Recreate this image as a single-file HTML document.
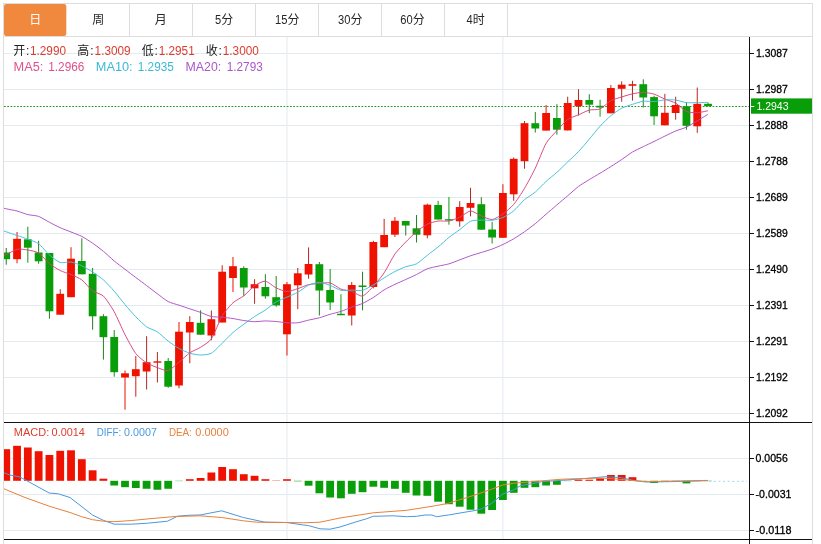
<!DOCTYPE html>
<html><head><meta charset="utf-8"><title>chart</title>
<style>html,body{margin:0;padding:0;background:#fff;overflow:hidden}body{width:821px;height:544px;position:relative;font-family:"Liberation Sans",sans-serif}</style></head>
<body>
<svg width="821" height="544" viewBox="0 0 821 544" style="position:absolute;left:0;top:0;will-change:transform;font-family:'Liberation Sans','Noto Sans CJK SC',sans-serif">
<defs><clipPath id="cp"><rect x="4" y="37" width="745" height="503"/></clipPath>
</defs>
<rect width="821" height="544" fill="#fff"/>
<g shape-rendering="crispEdges" fill="#dddddd">
<rect x="3" y="3" width="810" height="1"/>
<rect x="3" y="36" width="810" height="1"/>
<rect x="3" y="3" width="1" height="541"/>
<rect x="812" y="3" width="1" height="541"/>
<rect x="129" y="4" width="1" height="32"/>
<rect x="192" y="4" width="1" height="32"/>
<rect x="255" y="4" width="1" height="32"/>
<rect x="318" y="4" width="1" height="32"/>
<rect x="381" y="4" width="1" height="32"/>
<rect x="444" y="4" width="1" height="32"/>
<rect x="507" y="4" width="1" height="32"/>
</g>
<rect x="4" y="4" width="62.3" height="32" rx="2.2" fill="#f0883e"/>
<text x="29.30" y="24.20" font-size="12" fill="#ffffff" font-family="'Liberation Sans','Noto Sans CJK SC',sans-serif">日</text>
<text x="92.25" y="24.20" font-size="12" fill="#262626" font-family="'Liberation Sans','Noto Sans CJK SC',sans-serif">周</text>
<text x="154.70" y="24.20" font-size="12" fill="#262626" font-family="'Liberation Sans','Noto Sans CJK SC',sans-serif">月</text>
<text x="215.10" y="23.60" font-size="12" fill="#262626" textLength="6.20" lengthAdjust="spacingAndGlyphs">5</text><text x="221.30" y="24.20" font-size="12" fill="#262626" font-family="'Liberation Sans','Noto Sans CJK SC',sans-serif">分</text>
<text x="275.10" y="23.60" font-size="12" fill="#262626" textLength="12.40" lengthAdjust="spacingAndGlyphs">15</text><text x="287.50" y="24.20" font-size="12" fill="#262626" font-family="'Liberation Sans','Noto Sans CJK SC',sans-serif">分</text>
<text x="338.00" y="23.60" font-size="12" fill="#262626" textLength="12.40" lengthAdjust="spacingAndGlyphs">30</text><text x="350.40" y="24.20" font-size="12" fill="#262626" font-family="'Liberation Sans','Noto Sans CJK SC',sans-serif">分</text>
<text x="400.30" y="23.60" font-size="12" fill="#262626" textLength="12.40" lengthAdjust="spacingAndGlyphs">60</text><text x="412.70" y="24.20" font-size="12" fill="#262626" font-family="'Liberation Sans','Noto Sans CJK SC',sans-serif">分</text>
<text x="466.50" y="23.60" font-size="12" fill="#262626" textLength="6.20" lengthAdjust="spacingAndGlyphs">4</text><text x="472.70" y="24.20" font-size="12" fill="#262626" font-family="'Liberation Sans','Noto Sans CJK SC',sans-serif">时</text>
<g shape-rendering="crispEdges" fill="#e3eaf0">
<rect x="4" y="53" width="745" height="1"/>
<rect x="4" y="89" width="745" height="1"/>
<rect x="4" y="125" width="745" height="1"/>
<rect x="4" y="161" width="745" height="1"/>
<rect x="4" y="197" width="745" height="1"/>
<rect x="4" y="233" width="745" height="1"/>
<rect x="4" y="269" width="745" height="1"/>
<rect x="4" y="305" width="745" height="1"/>
<rect x="4" y="341" width="745" height="1"/>
<rect x="4" y="377" width="745" height="1"/>
<rect x="4" y="413" width="745" height="1"/>
<rect x="4" y="458" width="745" height="1"/>
<rect x="4" y="494" width="745" height="1"/>
<rect x="4" y="530" width="745" height="1"/>
</g>
<rect x="286.46" y="37" width="1" height="502" fill="#e3eaf0"/>
<rect x="502.40" y="37" width="1" height="502" fill="#e3eaf0"/>
<text x="13.20" y="55.10" font-size="12" fill="#222222" font-family="'Liberation Sans','Noto Sans CJK SC',sans-serif">开</text>
<text x="26.00" y="54.80" font-size="12" fill="#222222">:</text>
<text x="30.00" y="54.80" font-size="12" fill="#dc3c2e" textLength="36.00" lengthAdjust="spacingAndGlyphs">1.2990</text>
<text x="77.30" y="55.10" font-size="12" fill="#222222" font-family="'Liberation Sans','Noto Sans CJK SC',sans-serif">高</text>
<text x="90.20" y="54.80" font-size="12" fill="#222222">:</text>
<text x="94.60" y="54.80" font-size="12" fill="#dc3c2e" textLength="36.00" lengthAdjust="spacingAndGlyphs">1.3009</text>
<text x="141.80" y="55.10" font-size="12" fill="#222222" font-family="'Liberation Sans','Noto Sans CJK SC',sans-serif">低</text>
<text x="154.60" y="54.80" font-size="12" fill="#222222">:</text>
<text x="158.70" y="54.80" font-size="12" fill="#dc3c2e" textLength="36.00" lengthAdjust="spacingAndGlyphs">1.2951</text>
<text x="205.70" y="55.10" font-size="12" fill="#222222" font-family="'Liberation Sans','Noto Sans CJK SC',sans-serif">收</text>
<text x="218.50" y="54.80" font-size="12" fill="#222222">:</text>
<text x="222.80" y="54.80" font-size="12" fill="#dc3c2e" textLength="36.00" lengthAdjust="spacingAndGlyphs">1.3000</text>
<text x="13.50" y="70.80" font-size="12" fill="#e0508c" textLength="29.80" lengthAdjust="spacingAndGlyphs">MA5:</text>
<text x="48.20" y="70.80" font-size="12" fill="#e0508c" textLength="36.20" lengthAdjust="spacingAndGlyphs">1.2966</text>
<text x="95.80" y="70.80" font-size="12" fill="#3cb8d6" textLength="36.80" lengthAdjust="spacingAndGlyphs">MA10:</text>
<text x="137.80" y="70.80" font-size="12" fill="#3cb8d6" textLength="36.00" lengthAdjust="spacingAndGlyphs">1.2935</text>
<text x="185.60" y="70.80" font-size="12" fill="#a957c9" textLength="35.60" lengthAdjust="spacingAndGlyphs">MA20:</text>
<text x="226.80" y="70.80" font-size="12" fill="#a957c9" textLength="35.90" lengthAdjust="spacingAndGlyphs">1.2793</text>
<text x="13.80" y="435.80" font-size="11" fill="#dc3c2e" textLength="35.40" lengthAdjust="spacingAndGlyphs">MACD:</text>
<text x="51.60" y="435.80" font-size="11" fill="#dc3c2e" textLength="33.20" lengthAdjust="spacingAndGlyphs">0.0014</text>
<text x="96.80" y="435.80" font-size="11" fill="#4a98de" textLength="24.40" lengthAdjust="spacingAndGlyphs">DIFF:</text>
<text x="124.10" y="435.80" font-size="11" fill="#4a98de" textLength="32.80" lengthAdjust="spacingAndGlyphs">0.0007</text>
<text x="168.90" y="435.80" font-size="11" fill="#e8813c" textLength="22.90" lengthAdjust="spacingAndGlyphs">DEA:</text>
<text x="195.30" y="435.80" font-size="11" fill="#e8813c" textLength="33.50" lengthAdjust="spacingAndGlyphs">0.0000</text>
<g clip-path="url(#cp)">
<line x1="4" y1="106.5" x2="749" y2="106.5" stroke="#22992a" stroke-width="1" stroke-dasharray="1.75 1.5"/>
<rect x="5.74" y="248.00" width="1" height="16.70" fill="#237f23"/>
<rect x="2.34" y="252.50" width="7.80" height="6.70" fill="#0a9d0a"/>
<rect x="16.54" y="232.00" width="1" height="31.30" fill="#ef1201"/>
<rect x="13.14" y="238.80" width="7.80" height="20.40" fill="#ef1201"/>
<rect x="27.33" y="226.70" width="1" height="36.00" fill="#178f17"/>
<rect x="23.93" y="239.30" width="7.80" height="8.40" fill="#0a9d0a"/>
<rect x="38.13" y="240.80" width="1" height="22.90" fill="#237f23"/>
<rect x="34.73" y="252.50" width="7.80" height="8.80" fill="#0a9d0a"/>
<rect x="48.93" y="253.00" width="1" height="65.70" fill="#237f23"/>
<rect x="45.53" y="253.00" width="7.80" height="58.30" fill="#0a9d0a"/>
<rect x="59.73" y="289.20" width="1" height="25.50" fill="#b32a24"/>
<rect x="56.33" y="293.80" width="7.80" height="20.90" fill="#ef1201"/>
<rect x="70.52" y="247.20" width="1" height="50.00" fill="#ef1201"/>
<rect x="67.12" y="258.70" width="7.80" height="38.50" fill="#ef1201"/>
<rect x="81.32" y="238.30" width="1" height="36.00" fill="#178f17"/>
<rect x="77.92" y="261.00" width="7.80" height="13.30" fill="#0a9d0a"/>
<rect x="92.12" y="268.00" width="1" height="61.70" fill="#237f23"/>
<rect x="88.72" y="273.80" width="7.80" height="42.50" fill="#0a9d0a"/>
<rect x="102.91" y="314.20" width="1" height="45.40" fill="#237f23"/>
<rect x="99.51" y="316.20" width="7.80" height="21.00" fill="#0a9d0a"/>
<rect x="113.71" y="330.00" width="1" height="46.70" fill="#178f17"/>
<rect x="110.31" y="337.00" width="7.80" height="35.20" fill="#0a9d0a"/>
<rect x="124.51" y="370.50" width="1" height="39.20" fill="#ef1201"/>
<rect x="121.11" y="373.30" width="7.80" height="4.20" fill="#ef1201"/>
<rect x="135.30" y="356.00" width="1" height="40.70" fill="#d01e14"/>
<rect x="131.90" y="369.20" width="7.80" height="7.00" fill="#ef1201"/>
<rect x="146.10" y="336.20" width="1" height="53.30" fill="#b32a24"/>
<rect x="142.70" y="362.20" width="7.80" height="9.30" fill="#ef1201"/>
<rect x="156.90" y="352.00" width="1" height="30.50" fill="#b32a24"/>
<rect x="153.50" y="361.30" width="7.80" height="1.40" fill="#ef1201"/>
<rect x="167.70" y="358.00" width="1" height="29.80" fill="#178f17"/>
<rect x="164.30" y="361.00" width="7.80" height="25.70" fill="#0a9d0a"/>
<rect x="178.49" y="322.00" width="1" height="66.30" fill="#ef1201"/>
<rect x="175.09" y="331.70" width="7.80" height="53.80" fill="#ef1201"/>
<rect x="189.29" y="316.20" width="1" height="47.10" fill="#d01e14"/>
<rect x="185.89" y="322.00" width="7.80" height="10.50" fill="#ef1201"/>
<rect x="200.09" y="310.30" width="1" height="24.40" fill="#237f23"/>
<rect x="196.69" y="322.80" width="7.80" height="11.90" fill="#0a9d0a"/>
<rect x="210.88" y="310.50" width="1" height="29.70" fill="#b32a24"/>
<rect x="207.48" y="319.20" width="7.80" height="16.30" fill="#ef1201"/>
<rect x="221.68" y="265.30" width="1" height="57.20" fill="#d01e14"/>
<rect x="218.28" y="271.70" width="7.80" height="50.80" fill="#ef1201"/>
<rect x="232.48" y="257.00" width="1" height="35.00" fill="#ef1201"/>
<rect x="229.08" y="266.20" width="7.80" height="11.80" fill="#ef1201"/>
<rect x="243.27" y="266.30" width="1" height="29.50" fill="#237f23"/>
<rect x="239.87" y="268.00" width="7.80" height="19.50" fill="#0a9d0a"/>
<rect x="254.07" y="279.20" width="1" height="24.60" fill="#b32a24"/>
<rect x="250.67" y="284.20" width="7.80" height="4.10" fill="#ef1201"/>
<rect x="264.87" y="274.20" width="1" height="24.50" fill="#237f23"/>
<rect x="261.47" y="287.00" width="7.80" height="9.30" fill="#0a9d0a"/>
<rect x="275.67" y="276.00" width="1" height="30.70" fill="#178f17"/>
<rect x="272.27" y="297.20" width="7.80" height="8.20" fill="#0a9d0a"/>
<rect x="286.46" y="282.00" width="1" height="73.50" fill="#ef1201"/>
<rect x="283.06" y="284.20" width="7.80" height="50.10" fill="#ef1201"/>
<rect x="297.26" y="268.00" width="1" height="41.20" fill="#b32a24"/>
<rect x="293.86" y="273.30" width="7.80" height="12.00" fill="#ef1201"/>
<rect x="308.06" y="247.40" width="1" height="31.30" fill="#b32a24"/>
<rect x="304.66" y="264.00" width="7.80" height="10.50" fill="#ef1201"/>
<rect x="318.85" y="262.00" width="1" height="53.50" fill="#237f23"/>
<rect x="315.45" y="264.20" width="7.80" height="26.30" fill="#0a9d0a"/>
<rect x="329.65" y="269.00" width="1" height="41.00" fill="#178f17"/>
<rect x="326.25" y="290.00" width="7.80" height="12.50" fill="#0a9d0a"/>
<rect x="340.45" y="294.20" width="1" height="21.00" fill="#0a9d0a"/>
<rect x="337.05" y="313.80" width="7.80" height="1.40" fill="#0a9d0a"/>
<rect x="351.24" y="282.00" width="1" height="43.50" fill="#b32a24"/>
<rect x="347.84" y="285.00" width="7.80" height="30.50" fill="#ef1201"/>
<rect x="362.04" y="271.70" width="1" height="38.60" fill="#237f23"/>
<rect x="358.64" y="285.50" width="7.80" height="1.50" fill="#0a9d0a"/>
<rect x="372.84" y="240.80" width="1" height="47.50" fill="#b32a24"/>
<rect x="369.44" y="242.00" width="7.80" height="45.00" fill="#ef1201"/>
<rect x="383.64" y="218.80" width="1" height="28.40" fill="#d01e14"/>
<rect x="380.24" y="235.00" width="7.80" height="12.20" fill="#ef1201"/>
<rect x="394.43" y="217.00" width="1" height="20.00" fill="#ef1201"/>
<rect x="391.03" y="220.80" width="7.80" height="13.90" fill="#ef1201"/>
<rect x="405.23" y="221.00" width="1" height="14.50" fill="#237f23"/>
<rect x="401.83" y="221.00" width="7.80" height="4.50" fill="#0a9d0a"/>
<rect x="416.03" y="215.00" width="1" height="27.50" fill="#237f23"/>
<rect x="412.63" y="228.30" width="7.80" height="6.40" fill="#0a9d0a"/>
<rect x="426.82" y="203.70" width="1" height="34.60" fill="#b32a24"/>
<rect x="423.42" y="204.70" width="7.80" height="30.60" fill="#ef1201"/>
<rect x="437.62" y="200.80" width="1" height="18.70" fill="#178f17"/>
<rect x="434.22" y="205.00" width="7.80" height="14.50" fill="#0a9d0a"/>
<rect x="448.42" y="197.00" width="1" height="27.70" fill="#0a9d0a"/>
<rect x="445.02" y="219.20" width="7.80" height="1.30" fill="#0a9d0a"/>
<rect x="459.21" y="201.20" width="1" height="25.50" fill="#b32a24"/>
<rect x="455.81" y="207.00" width="7.80" height="14.30" fill="#ef1201"/>
<rect x="470.01" y="187.80" width="1" height="28.50" fill="#b32a24"/>
<rect x="466.61" y="203.00" width="7.80" height="4.80" fill="#ef1201"/>
<rect x="480.81" y="197.20" width="1" height="32.50" fill="#237f23"/>
<rect x="477.41" y="204.20" width="7.80" height="25.50" fill="#0a9d0a"/>
<rect x="491.61" y="221.80" width="1" height="21.70" fill="#178f17"/>
<rect x="488.21" y="229.50" width="7.80" height="8.00" fill="#0a9d0a"/>
<rect x="502.40" y="184.20" width="1" height="53.60" fill="#ef1201"/>
<rect x="499.00" y="193.00" width="7.80" height="44.80" fill="#ef1201"/>
<rect x="513.20" y="157.50" width="1" height="43.30" fill="#b32a24"/>
<rect x="509.80" y="158.80" width="7.80" height="35.50" fill="#ef1201"/>
<rect x="524.00" y="121.00" width="1" height="47.70" fill="#b32a24"/>
<rect x="520.60" y="123.20" width="7.80" height="38.00" fill="#ef1201"/>
<rect x="534.79" y="112.00" width="1" height="20.50" fill="#237f23"/>
<rect x="531.39" y="123.20" width="7.80" height="5.30" fill="#0a9d0a"/>
<rect x="545.59" y="105.00" width="1" height="25.60" fill="#ef1201"/>
<rect x="542.19" y="113.00" width="7.80" height="17.60" fill="#ef1201"/>
<rect x="556.39" y="104.20" width="1" height="30.50" fill="#178f17"/>
<rect x="552.99" y="118.00" width="7.80" height="11.70" fill="#0a9d0a"/>
<rect x="567.18" y="96.70" width="1" height="33.70" fill="#b32a24"/>
<rect x="563.78" y="103.00" width="7.80" height="27.40" fill="#ef1201"/>
<rect x="577.98" y="89.20" width="1" height="26.30" fill="#b32a24"/>
<rect x="574.58" y="100.00" width="7.80" height="6.20" fill="#ef1201"/>
<rect x="588.78" y="94.20" width="1" height="19.00" fill="#237f23"/>
<rect x="585.38" y="100.00" width="7.80" height="4.70" fill="#0a9d0a"/>
<rect x="599.58" y="99.70" width="1" height="17.00" fill="#0a9d0a"/>
<rect x="596.18" y="105.80" width="7.80" height="1.70" fill="#0a9d0a"/>
<rect x="610.37" y="85.00" width="1" height="28.30" fill="#d01e14"/>
<rect x="606.97" y="88.00" width="7.80" height="25.30" fill="#ef1201"/>
<rect x="621.17" y="81.30" width="1" height="20.40" fill="#b32a24"/>
<rect x="617.77" y="84.70" width="7.80" height="4.10" fill="#ef1201"/>
<rect x="631.97" y="80.80" width="1" height="19.80" fill="#b32a24"/>
<rect x="628.57" y="84.20" width="7.80" height="1.60" fill="#ef1201"/>
<rect x="642.76" y="79.30" width="1" height="28.20" fill="#237f23"/>
<rect x="639.36" y="84.20" width="7.80" height="13.30" fill="#0a9d0a"/>
<rect x="653.56" y="95.80" width="1" height="29.20" fill="#0a9d0a"/>
<rect x="650.16" y="97.10" width="7.80" height="19.20" fill="#0a9d0a"/>
<rect x="664.36" y="93.80" width="1" height="31.50" fill="#d01e14"/>
<rect x="660.96" y="112.80" width="7.80" height="12.50" fill="#ef1201"/>
<rect x="675.15" y="96.70" width="1" height="23.00" fill="#b32a24"/>
<rect x="671.75" y="105.00" width="7.80" height="8.00" fill="#ef1201"/>
<rect x="685.95" y="102.50" width="1" height="27.20" fill="#237f23"/>
<rect x="682.55" y="106.20" width="7.80" height="19.60" fill="#0a9d0a"/>
<rect x="696.75" y="87.50" width="1" height="45.30" fill="#b32a24"/>
<rect x="693.35" y="103.80" width="7.80" height="22.50" fill="#ef1201"/>
<rect x="707.55" y="102.50" width="1" height="3.70" fill="#0a9d0a"/>
<rect x="704.15" y="103.80" width="7.80" height="2.40" fill="#0a9d0a"/>
<path d="M-4.56 257.50 C-3.37 257.17 3.86 255.40 6.24 254.50 C8.62 253.60 14.66 249.80 17.04 249.30 C19.41 248.81 25.46 249.59 27.83 250.00 C30.21 250.41 36.26 251.50 38.63 253.00 C41.01 254.50 47.05 261.73 49.43 263.66 C51.80 265.59 57.85 269.38 60.23 270.58 C62.60 271.78 68.65 273.54 71.02 274.56 C73.40 275.58 79.44 278.08 81.82 279.88 C84.19 281.68 90.24 289.10 92.62 290.88 C94.99 292.66 101.04 293.77 103.41 296.06 C105.79 298.35 111.83 307.49 114.21 311.74 C116.59 315.99 122.63 330.05 125.01 334.66 C127.38 339.27 133.43 350.54 135.80 353.64 C138.18 356.74 144.23 361.28 146.60 362.82 C148.98 364.36 155.02 366.79 157.40 367.64 C159.77 368.49 165.82 371.14 168.20 370.54 C170.57 369.94 176.62 364.17 178.99 362.22 C181.37 360.27 187.41 354.42 189.79 352.78 C192.16 351.14 198.21 348.81 200.59 347.28 C202.96 345.75 209.01 342.32 211.38 338.86 C213.76 335.40 219.80 319.83 222.18 315.86 C224.56 311.89 230.60 304.96 232.98 302.76 C235.35 300.56 241.40 297.73 243.77 295.86 C246.15 293.99 252.20 287.37 254.57 285.76 C256.95 284.15 262.99 280.94 265.37 281.18 C267.74 281.42 273.79 286.78 276.17 287.92 C278.54 289.06 284.59 291.44 286.96 291.52 C289.34 291.60 295.38 289.44 297.76 288.68 C300.13 287.92 306.18 285.21 308.56 284.64 C310.93 284.07 316.98 283.67 319.35 283.48 C321.73 283.29 327.77 282.28 330.15 282.90 C332.53 283.52 338.57 288.16 340.95 289.10 C343.32 290.04 349.37 290.68 351.74 291.44 C354.12 292.20 360.17 296.60 362.54 296.04 C364.92 295.48 370.96 288.89 373.34 286.34 C375.71 283.79 381.76 276.40 384.14 272.84 C386.51 269.28 392.56 257.35 394.93 253.96 C397.31 250.57 403.35 244.52 405.73 242.06 C408.10 239.60 414.15 233.57 416.53 231.60 C418.90 229.63 424.95 225.30 427.32 224.14 C429.70 222.98 435.74 221.39 438.12 221.04 C440.50 220.69 446.54 221.39 448.92 220.98 C451.29 220.57 457.34 218.38 459.71 217.28 C462.09 216.18 468.14 211.09 470.51 210.94 C472.89 210.79 478.93 214.99 481.31 215.94 C483.68 216.89 489.73 219.75 492.11 219.54 C494.48 219.33 500.53 215.71 502.90 214.04 C505.28 212.37 511.32 207.22 513.70 204.40 C516.07 201.58 522.12 192.42 524.50 188.44 C526.87 184.46 532.92 173.17 535.29 168.20 C537.67 163.23 543.71 147.43 546.09 143.30 C548.47 139.17 554.51 133.26 556.89 130.64 C559.26 128.02 565.31 121.22 567.68 119.48 C570.06 117.74 576.11 115.87 578.48 114.84 C580.86 113.81 586.90 110.72 589.28 110.08 C591.65 109.44 597.70 110.02 600.08 108.98 C602.45 107.94 608.50 101.96 610.87 100.64 C613.25 99.32 619.29 97.73 621.67 96.98 C624.04 96.23 630.09 94.33 632.47 93.82 C634.84 93.31 640.89 92.34 643.26 92.38 C645.64 92.42 651.68 93.40 654.06 94.14 C656.44 94.88 662.48 98.11 664.86 99.10 C667.23 100.09 673.28 101.80 675.65 103.16 C678.03 104.52 684.08 110.43 686.45 111.48 C688.83 112.53 694.87 112.82 697.25 112.74 C699.62 112.66 706.86 110.94 708.05 110.72" fill="none" stroke="#d8427c" stroke-width="0.95"/>
<path d="M-4.56 228.20 C-3.37 228.60 3.86 231.00 6.24 231.80 C8.62 232.60 14.66 234.69 17.04 235.50 C19.41 236.31 25.46 238.30 27.83 239.20 C30.21 240.10 36.26 241.96 38.63 243.70 C41.01 245.44 47.05 252.93 49.43 255.00 C51.80 257.07 57.85 261.73 60.23 262.50 C62.60 263.27 68.65 261.64 71.02 262.00 C73.40 262.36 79.44 264.70 81.82 265.80 C84.19 266.90 90.24 270.45 92.62 272.00 C94.99 273.55 101.04 277.75 103.41 279.86 C105.79 281.97 111.83 288.44 114.21 291.16 C116.59 293.88 122.63 301.79 125.01 304.61 C127.38 307.43 133.43 314.31 135.80 316.76 C138.18 319.21 144.23 325.19 146.60 326.85 C148.98 328.51 155.02 330.28 157.40 331.85 C159.77 333.42 165.82 339.32 168.20 341.14 C170.57 342.96 176.62 347.11 178.99 348.44 C181.37 349.77 187.41 352.48 189.79 353.21 C192.16 353.94 198.21 355.05 200.59 355.05 C202.96 355.05 209.01 354.55 211.38 353.25 C213.76 351.95 219.80 345.48 222.18 343.20 C224.56 340.92 230.60 334.57 232.98 332.49 C235.35 330.41 241.40 326.08 243.77 324.32 C246.15 322.56 252.20 318.09 254.57 316.52 C256.95 314.95 262.99 311.63 265.37 310.02 C267.74 308.41 273.79 303.31 276.17 301.89 C278.54 300.47 284.59 298.20 286.96 297.14 C289.34 296.08 295.38 293.58 297.76 292.27 C300.13 290.96 306.18 286.29 308.56 285.20 C310.93 284.11 316.98 282.31 319.35 282.33 C321.73 282.35 327.77 284.53 330.15 285.41 C332.53 286.29 338.57 289.80 340.95 290.31 C343.32 290.82 349.37 290.06 351.74 290.06 C354.12 290.06 360.17 290.91 362.54 290.34 C364.92 289.77 370.96 286.28 373.34 284.91 C375.71 283.54 381.76 279.34 384.14 277.87 C386.51 276.40 392.56 272.75 394.93 271.53 C397.31 270.31 403.35 267.60 405.73 266.75 C408.10 265.90 414.15 265.09 416.53 263.82 C418.90 262.55 424.95 257.10 427.32 255.24 C429.70 253.38 435.74 248.89 438.12 246.94 C440.50 244.99 446.54 239.37 448.92 237.47 C451.29 235.57 457.34 231.45 459.71 229.67 C462.09 227.89 468.14 222.33 470.51 221.27 C472.89 220.21 478.93 220.15 481.31 220.04 C483.68 219.93 489.73 220.57 492.11 220.29 C494.48 220.01 500.53 218.55 502.90 217.51 C505.28 216.47 511.32 212.80 513.70 210.84 C516.07 208.88 522.12 201.75 524.50 199.69 C526.87 197.63 532.92 194.08 535.29 192.07 C537.67 190.06 543.71 183.59 546.09 181.42 C548.47 179.25 554.51 174.48 556.89 172.34 C559.26 170.20 565.31 164.22 567.68 161.94 C570.06 159.66 576.11 154.15 578.48 151.64 C580.86 149.13 586.90 141.95 589.28 139.14 C591.65 136.34 597.70 128.73 600.08 126.14 C602.45 123.56 608.50 117.61 610.87 115.64 C613.25 113.67 619.29 109.47 621.67 108.23 C624.04 106.99 630.09 105.10 632.47 104.33 C634.84 103.56 640.89 101.53 643.26 101.23 C645.64 100.93 651.68 101.71 654.06 101.56 C656.44 101.41 662.48 100.03 664.86 99.87 C667.23 99.71 673.28 99.76 675.65 100.07 C678.03 100.38 684.08 102.38 686.45 102.65 C688.83 102.92 694.87 102.58 697.25 102.56 C699.62 102.54 706.86 102.44 708.05 102.43" fill="none" stroke="#3fbfd9" stroke-width="0.95"/>
<path d="M-4.56 206.00 C-3.37 206.31 3.86 208.25 6.24 208.80 C8.62 209.35 14.66 210.36 17.04 211.00 C19.41 211.64 25.46 214.01 27.83 214.60 C30.21 215.19 36.26 215.55 38.63 216.40 C41.01 217.25 47.05 221.06 49.43 222.30 C51.80 223.54 57.85 226.63 60.23 227.70 C62.60 228.77 68.65 231.04 71.02 232.00 C73.40 232.96 79.44 235.17 81.82 236.40 C84.19 237.63 90.24 241.56 92.62 243.20 C94.99 244.84 101.04 249.34 103.41 251.30 C105.79 253.26 111.83 259.02 114.21 261.00 C116.59 262.98 122.63 267.49 125.01 269.30 C127.38 271.12 133.43 275.71 135.80 277.50 C138.18 279.29 144.23 283.81 146.60 285.60 C148.98 287.39 155.02 292.04 157.40 293.80 C159.77 295.56 165.82 300.35 168.20 301.60 C170.57 302.85 176.62 304.41 178.99 305.20 C181.37 305.99 187.41 308.01 189.79 308.80 C192.16 309.59 198.21 311.55 200.59 312.40 C202.96 313.25 209.01 316.03 211.38 316.56 C213.76 317.08 219.80 316.96 222.18 317.18 C224.56 317.40 230.60 318.18 232.98 318.55 C235.35 318.92 241.40 320.20 243.77 320.54 C246.15 320.88 252.20 321.64 254.57 321.69 C256.95 321.73 262.99 320.95 265.37 320.94 C267.74 320.92 273.79 321.31 276.17 321.51 C278.54 321.72 284.59 322.66 286.96 322.79 C289.34 322.92 295.38 323.03 297.76 322.74 C300.13 322.45 306.18 320.67 308.56 320.12 C310.93 319.58 316.98 318.43 319.35 317.79 C321.73 317.15 327.77 315.01 330.15 314.31 C332.53 313.60 338.57 312.18 340.95 311.40 C343.32 310.62 349.37 308.07 351.74 307.19 C354.12 306.31 360.17 304.50 362.54 303.43 C364.92 302.36 370.96 298.96 373.34 297.47 C375.71 295.97 381.76 291.32 384.14 289.88 C386.51 288.44 392.56 285.48 394.93 284.33 C397.31 283.19 403.35 280.59 405.73 279.51 C408.10 278.43 414.15 275.69 416.53 274.51 C418.90 273.33 424.95 269.70 427.32 268.79 C429.70 267.87 435.74 266.71 438.12 266.17 C440.50 265.64 446.54 264.58 448.92 263.89 C451.29 263.20 457.34 260.75 459.71 259.87 C462.09 258.98 468.14 256.62 470.51 255.81 C472.89 254.99 478.93 253.21 481.31 252.47 C483.68 251.74 489.73 249.96 492.11 249.08 C494.48 248.20 500.53 245.65 502.90 244.52 C505.28 243.39 511.32 240.20 513.70 238.79 C516.07 237.39 522.12 233.42 524.50 231.76 C526.87 230.09 532.92 225.59 535.29 223.66 C537.67 221.72 543.71 216.24 546.09 214.18 C548.47 212.12 554.51 206.93 556.89 204.91 C559.26 202.88 565.31 197.83 567.68 195.81 C570.06 193.78 576.11 188.24 578.48 186.45 C580.86 184.67 586.90 181.05 589.28 179.59 C591.65 178.13 597.70 174.65 600.08 173.22 C602.45 171.78 608.50 168.08 610.87 166.57 C613.25 165.07 619.29 161.14 621.67 159.54 C624.04 157.93 630.09 153.43 632.47 152.01 C634.84 150.59 640.89 147.81 643.26 146.65 C645.64 145.49 651.68 142.65 654.06 141.49 C656.44 140.33 662.48 137.26 664.86 136.10 C667.23 134.95 673.28 131.99 675.65 131.00 C678.03 130.02 684.08 128.26 686.45 127.15 C688.83 126.03 694.87 122.26 697.25 120.85 C699.62 119.44 706.86 115.01 708.05 114.28" fill="none" stroke="#ad4fc4" stroke-width="0.95"/>
<rect x="2.34" y="449.20" width="7.80" height="31.60" fill="#ef1201"/>
<rect x="13.14" y="445.80" width="7.80" height="35.00" fill="#ef1201"/>
<rect x="23.93" y="447.50" width="7.80" height="33.30" fill="#ef1201"/>
<rect x="34.73" y="451.20" width="7.80" height="29.60" fill="#ef1201"/>
<rect x="45.53" y="455.00" width="7.80" height="25.80" fill="#ef1201"/>
<rect x="56.33" y="450.80" width="7.80" height="30.00" fill="#ef1201"/>
<rect x="67.12" y="450.30" width="7.80" height="30.50" fill="#ef1201"/>
<rect x="77.92" y="459.20" width="7.80" height="21.60" fill="#ef1201"/>
<rect x="88.72" y="470.30" width="7.80" height="10.50" fill="#ef1201"/>
<rect x="99.51" y="478.70" width="7.80" height="2.10" fill="#ef1201"/>
<rect x="110.31" y="480.80" width="7.80" height="4.70" fill="#0a9d0a"/>
<rect x="121.11" y="480.80" width="7.80" height="6.40" fill="#0a9d0a"/>
<rect x="131.90" y="480.80" width="7.80" height="7.20" fill="#0a9d0a"/>
<rect x="142.70" y="480.80" width="7.80" height="7.95" fill="#0a9d0a"/>
<rect x="153.50" y="480.80" width="7.80" height="8.95" fill="#0a9d0a"/>
<rect x="164.30" y="480.80" width="7.80" height="7.95" fill="#0a9d0a"/>
<rect x="175.09" y="480.80" width="7.80" height="0.30" fill="#0a9d0a"/>
<rect x="185.89" y="479.20" width="7.80" height="1.60" fill="#ef1201"/>
<rect x="196.69" y="478.00" width="7.80" height="2.80" fill="#ef1201"/>
<rect x="207.48" y="472.50" width="7.80" height="8.30" fill="#ef1201"/>
<rect x="218.28" y="467.00" width="7.80" height="13.80" fill="#ef1201"/>
<rect x="229.08" y="469.20" width="7.80" height="11.60" fill="#ef1201"/>
<rect x="239.87" y="474.20" width="7.80" height="6.60" fill="#ef1201"/>
<rect x="250.67" y="475.80" width="7.80" height="5.00" fill="#ef1201"/>
<rect x="261.47" y="479.20" width="7.80" height="1.60" fill="#ef1201"/>
<rect x="272.27" y="480.50" width="7.80" height="0.30" fill="#ef1201"/>
<rect x="283.06" y="479.20" width="7.80" height="1.60" fill="#ef1201"/>
<rect x="293.86" y="480.80" width="7.80" height="0.50" fill="#0a9d0a"/>
<rect x="304.66" y="480.80" width="7.80" height="4.90" fill="#0a9d0a"/>
<rect x="315.45" y="480.80" width="7.80" height="12.50" fill="#0a9d0a"/>
<rect x="326.25" y="480.80" width="7.80" height="16.70" fill="#0a9d0a"/>
<rect x="337.05" y="480.80" width="7.80" height="17.50" fill="#0a9d0a"/>
<rect x="347.84" y="480.80" width="7.80" height="13.00" fill="#0a9d0a"/>
<rect x="358.64" y="480.80" width="7.80" height="11.40" fill="#0a9d0a"/>
<rect x="369.44" y="480.80" width="7.80" height="5.90" fill="#0a9d0a"/>
<rect x="380.24" y="480.80" width="7.80" height="7.00" fill="#0a9d0a"/>
<rect x="391.03" y="480.80" width="7.80" height="8.00" fill="#0a9d0a"/>
<rect x="401.83" y="480.80" width="7.80" height="12.00" fill="#0a9d0a"/>
<rect x="412.63" y="480.80" width="7.80" height="14.70" fill="#0a9d0a"/>
<rect x="423.42" y="480.80" width="7.80" height="15.00" fill="#0a9d0a"/>
<rect x="434.22" y="480.80" width="7.80" height="20.90" fill="#0a9d0a"/>
<rect x="445.02" y="480.80" width="7.80" height="23.40" fill="#0a9d0a"/>
<rect x="455.81" y="480.80" width="7.80" height="25.90" fill="#0a9d0a"/>
<rect x="466.61" y="480.80" width="7.80" height="28.90" fill="#0a9d0a"/>
<rect x="477.41" y="480.80" width="7.80" height="32.90" fill="#0a9d0a"/>
<rect x="488.21" y="480.80" width="7.80" height="29.20" fill="#0a9d0a"/>
<rect x="499.00" y="480.80" width="7.80" height="19.20" fill="#0a9d0a"/>
<rect x="509.80" y="480.80" width="7.80" height="12.00" fill="#0a9d0a"/>
<rect x="520.60" y="480.80" width="7.80" height="7.00" fill="#0a9d0a"/>
<rect x="531.39" y="480.80" width="7.80" height="6.40" fill="#0a9d0a"/>
<rect x="542.19" y="480.80" width="7.80" height="4.70" fill="#0a9d0a"/>
<rect x="552.99" y="480.80" width="7.80" height="4.00" fill="#0a9d0a"/>
<rect x="563.78" y="480.80" width="7.80" height="0.30" fill="#0a9d0a"/>
<rect x="574.58" y="479.70" width="7.80" height="1.10" fill="#ef1201"/>
<rect x="585.38" y="479.70" width="7.80" height="1.10" fill="#ef1201"/>
<rect x="596.18" y="478.30" width="7.80" height="2.50" fill="#ef1201"/>
<rect x="606.97" y="475.00" width="7.80" height="5.80" fill="#ef1201"/>
<rect x="617.77" y="475.00" width="7.80" height="5.80" fill="#ef1201"/>
<rect x="628.57" y="477.20" width="7.80" height="3.60" fill="#ef1201"/>
<rect x="639.36" y="480.80" width="7.80" height="0.30" fill="#0a9d0a"/>
<rect x="650.16" y="480.80" width="7.80" height="2.20" fill="#0a9d0a"/>
<rect x="660.96" y="480.80" width="7.80" height="0.50" fill="#0a9d0a"/>
<rect x="671.75" y="480.80" width="7.80" height="0.50" fill="#0a9d0a"/>
<rect x="682.55" y="480.80" width="7.80" height="2.60" fill="#0a9d0a"/>
<rect x="693.35" y="480.80" width="7.80" height="0.30" fill="#0a9d0a"/>
<rect x="704.15" y="480.80" width="7.80" height="0.30" fill="#0a9d0a"/>
<polyline points="4.0,472.8 10.0,475.0 20.0,477.0 49.2,493.0 58.3,493.8 70.0,497.5 92.5,515.0 103.3,520.3 114.2,524.2 131.7,524.2 147.5,523.2 167.5,521.2 177.5,516.2 190.0,515.2 200.0,515.0 221.7,510.8 243.3,517.5 265.0,522.2 286.7,522.5 303.3,525.0 308.3,525.5 320.0,528.8 330.0,529.2 340.0,527.0 355.0,522.2 366.7,518.7 373.3,516.3 393.3,515.8 406.7,516.7 416.7,516.3 425.0,515.0 431.7,515.0 436.7,516.7 448.3,515.0 475.0,510.5 481.7,508.8 491.7,503.3 502.5,494.2 513.3,490.0 520.8,485.5 531.7,483.8 541.7,481.7 561.8,480.3 583.3,478.7 605.0,476.7 620.0,477.5 633.3,480.3 646.7,482.0 666.7,481.7 686.8,481.3 707.9,480.6" fill="none" stroke="#4a98de" stroke-width="1"/>
<polyline points="4.0,488.8 25.0,497.5 49.2,506.2 70.0,512.5 81.7,516.7 92.5,519.7 103.3,521.2 114.2,521.7 131.7,520.5 150.0,518.7 175.0,516.5 200.0,515.8 221.7,517.5 243.3,520.8 256.7,522.2 286.7,522.5 303.3,522.8 320.0,522.2 340.0,518.0 373.3,512.8 406.7,510.3 436.8,505.5 448.3,503.3 475.0,495.0 491.7,489.2 502.5,485.0 513.3,483.3 531.7,481.7 561.8,479.2 600.0,478.0 625.0,479.7 643.3,481.7 666.7,481.2 686.8,480.8 707.9,480.4" fill="none" stroke="#e8813c" stroke-width="1"/>
<line x1="709" y1="481.3" x2="747" y2="481.3" stroke="#a6d9ee" stroke-width="1" stroke-dasharray="2.2 2.45"/>
</g>
<g shape-rendering="crispEdges" fill="#111111">
<rect x="749" y="37" width="1" height="507"/>
<rect x="4" y="422" width="808" height="1"/>
<rect x="4" y="539" width="808" height="1"/>
<rect x="750" y="53" width="4" height="1"/>
<rect x="750" y="89" width="4" height="1"/>
<rect x="750" y="125" width="4" height="1"/>
<rect x="750" y="161" width="4" height="1"/>
<rect x="750" y="197" width="4" height="1"/>
<rect x="750" y="233" width="4" height="1"/>
<rect x="750" y="269" width="4" height="1"/>
<rect x="750" y="305" width="4" height="1"/>
<rect x="750" y="341" width="4" height="1"/>
<rect x="750" y="377" width="4" height="1"/>
<rect x="750" y="413" width="4" height="1"/>
<rect x="750" y="458" width="4" height="1"/>
<rect x="750" y="494" width="4" height="1"/>
<rect x="750" y="530" width="4" height="1"/>
</g>
<text x="756.00" y="57.40" font-size="11" fill="#000000" textLength="31.80" lengthAdjust="spacingAndGlyphs" stroke="#000000" stroke-width="0.3">1.3087</text>
<text x="756.00" y="93.40" font-size="11" fill="#000000" textLength="31.80" lengthAdjust="spacingAndGlyphs" stroke="#000000" stroke-width="0.3">1.2987</text>
<text x="756.00" y="129.40" font-size="11" fill="#000000" textLength="31.80" lengthAdjust="spacingAndGlyphs" stroke="#000000" stroke-width="0.3">1.2888</text>
<text x="756.00" y="165.40" font-size="11" fill="#000000" textLength="31.80" lengthAdjust="spacingAndGlyphs" stroke="#000000" stroke-width="0.3">1.2788</text>
<text x="756.00" y="201.40" font-size="11" fill="#000000" textLength="31.80" lengthAdjust="spacingAndGlyphs" stroke="#000000" stroke-width="0.3">1.2689</text>
<text x="756.00" y="237.40" font-size="11" fill="#000000" textLength="31.80" lengthAdjust="spacingAndGlyphs" stroke="#000000" stroke-width="0.3">1.2589</text>
<text x="756.00" y="273.40" font-size="11" fill="#000000" textLength="31.80" lengthAdjust="spacingAndGlyphs" stroke="#000000" stroke-width="0.3">1.2490</text>
<text x="756.00" y="309.40" font-size="11" fill="#000000" textLength="31.80" lengthAdjust="spacingAndGlyphs" stroke="#000000" stroke-width="0.3">1.2391</text>
<text x="756.00" y="345.40" font-size="11" fill="#000000" textLength="31.80" lengthAdjust="spacingAndGlyphs" stroke="#000000" stroke-width="0.3">1.2291</text>
<text x="756.00" y="381.40" font-size="11" fill="#000000" textLength="31.80" lengthAdjust="spacingAndGlyphs" stroke="#000000" stroke-width="0.3">1.2192</text>
<text x="756.00" y="417.40" font-size="11" fill="#000000" textLength="31.80" lengthAdjust="spacingAndGlyphs" stroke="#000000" stroke-width="0.3">1.2092</text>
<text x="755.60" y="462.40" font-size="11" fill="#000000" textLength="32.20" lengthAdjust="spacingAndGlyphs" stroke="#000000" stroke-width="0.3">0.0056</text>
<text x="755.60" y="498.40" font-size="11" fill="#000000" textLength="35.80" lengthAdjust="spacingAndGlyphs" stroke="#000000" stroke-width="0.3">-0.0031</text>
<text x="755.60" y="534.40" font-size="11" fill="#000000" textLength="35.80" lengthAdjust="spacingAndGlyphs" stroke="#000000" stroke-width="0.3">-0.0118</text>
<rect x="751" y="98.4" width="61" height="15.3" fill="#0a9d0a"/>
<rect x="751" y="106" width="3.3" height="1" fill="#ffffff"/>
<text x="756.40" y="110.40" font-size="11" fill="#ffffff" textLength="32.20" lengthAdjust="spacingAndGlyphs">1.2943</text>
</svg>
</body></html>
